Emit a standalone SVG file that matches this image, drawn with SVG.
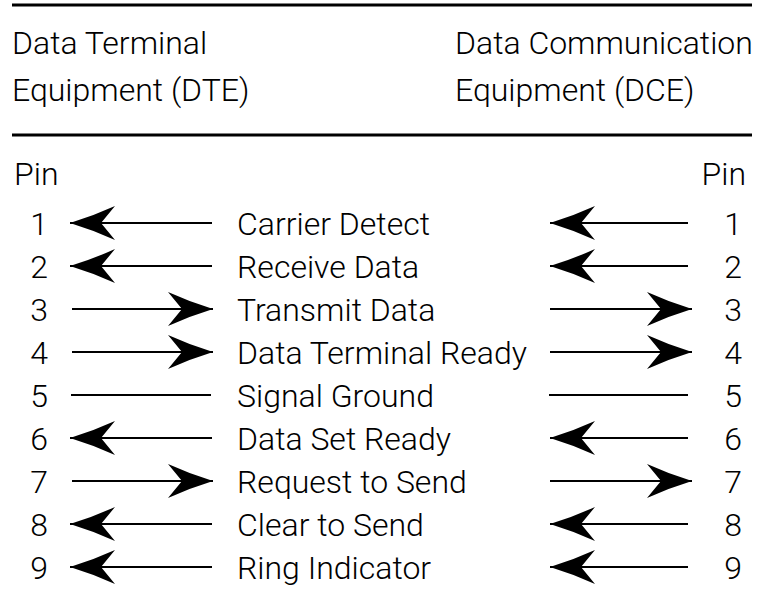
<svg xmlns="http://www.w3.org/2000/svg" width="760" height="607" viewBox="0 0 760 607">
<style>
text{font-family:"Roboto","Liberation Sans",sans-serif;font-weight:300;font-size:32px;fill:#000}
.n{text-anchor:middle}
.e{text-anchor:end}
.rule{stroke:#000;stroke-width:3}
.w{stroke:#000;stroke-width:2;fill:none}
.a{marker-end:url(#ah)}
</style>
<defs>
<marker id="ah" viewBox="0 0 45 34" refX="45" refY="17" markerWidth="45" markerHeight="34" markerUnits="userSpaceOnUse" orient="auto">
<path d="M45,17 Q22,10 0,0 L14,17 L0,34 Q22,24 45,17 Z" fill="#000"/>
</marker>
</defs>
<rect width="760" height="607" fill="#fff"/>
<g id="rules">
<line class="rule" x1="12" y1="5" x2="752" y2="5"/>
<line class="rule" x1="12" y1="135" x2="752" y2="135"/>
</g>
<g id="dte"><text x="12" y="54">Data Terminal</text><text x="12" y="101">Equipment (DTE)</text></g>
<g id="dce"><text x="455" y="54">Data Communication</text><text x="455" y="101">Equipment (DCE)</text></g>
<g id="pin-left"><text x="14" y="185">Pin</text></g>
<g id="pin-right"><text class="e" x="746" y="185">Pin</text></g>
<g id="row1"><text class="n" x="39" y="235">1</text><text x="237" y="235">Carrier Detect</text><text class="n" x="733" y="235">1</text></g>
<g id="row2"><text class="n" x="39" y="278">2</text><text x="237" y="278">Receive Data</text><text class="n" x="733" y="278">2</text></g>
<g id="row3"><text class="n" x="39" y="321">3</text><text x="237" y="321">Transmit Data</text><text class="n" x="733" y="321">3</text></g>
<g id="row4"><text class="n" x="39" y="364">4</text><text x="237" y="364">Data Terminal Ready</text><text class="n" x="733" y="364">4</text></g>
<g id="row5"><text class="n" x="39" y="407">5</text><text x="237" y="407">Signal Ground</text><text class="n" x="733" y="407">5</text></g>
<g id="row6"><text class="n" x="39" y="450">6</text><text x="237" y="450">Data Set Ready</text><text class="n" x="733" y="450">6</text></g>
<g id="row7"><text class="n" x="39" y="493">7</text><text x="237" y="493">Request to Send</text><text class="n" x="733" y="493">7</text></g>
<g id="row8"><text class="n" x="39" y="536">8</text><text x="237" y="536">Clear to Send</text><text class="n" x="733" y="536">8</text></g>
<g id="row9"><text class="n" x="39" y="579">9</text><text x="237" y="579">Ring Indicator</text><text class="n" x="733" y="579">9</text></g>
<g id="connectors">
<line class="w a" x1="212" y1="223" x2="70" y2="223"/>
<line class="w a" x1="688" y1="223" x2="550" y2="223"/>
<line class="w a" x1="212" y1="266" x2="70" y2="266"/>
<line class="w a" x1="688" y1="266" x2="550" y2="266"/>
<line class="w a" x1="72" y1="309" x2="213" y2="309"/>
<line class="w a" x1="550" y1="309" x2="692" y2="309"/>
<line class="w a" x1="72" y1="352" x2="213" y2="352"/>
<line class="w a" x1="550" y1="352" x2="692" y2="352"/>
<line class="w" x1="71" y1="395" x2="211" y2="395"/>
<line class="w" x1="549" y1="395" x2="688" y2="395"/>
<line class="w a" x1="212" y1="438" x2="70" y2="438"/>
<line class="w a" x1="688" y1="438" x2="550" y2="438"/>
<line class="w a" x1="72" y1="481" x2="213" y2="481"/>
<line class="w a" x1="550" y1="481" x2="692" y2="481"/>
<line class="w a" x1="212" y1="524" x2="70" y2="524"/>
<line class="w a" x1="688" y1="524" x2="550" y2="524"/>
<line class="w a" x1="212" y1="567" x2="70" y2="567"/>
<line class="w a" x1="688" y1="567" x2="550" y2="567"/>
</g>
</svg>
